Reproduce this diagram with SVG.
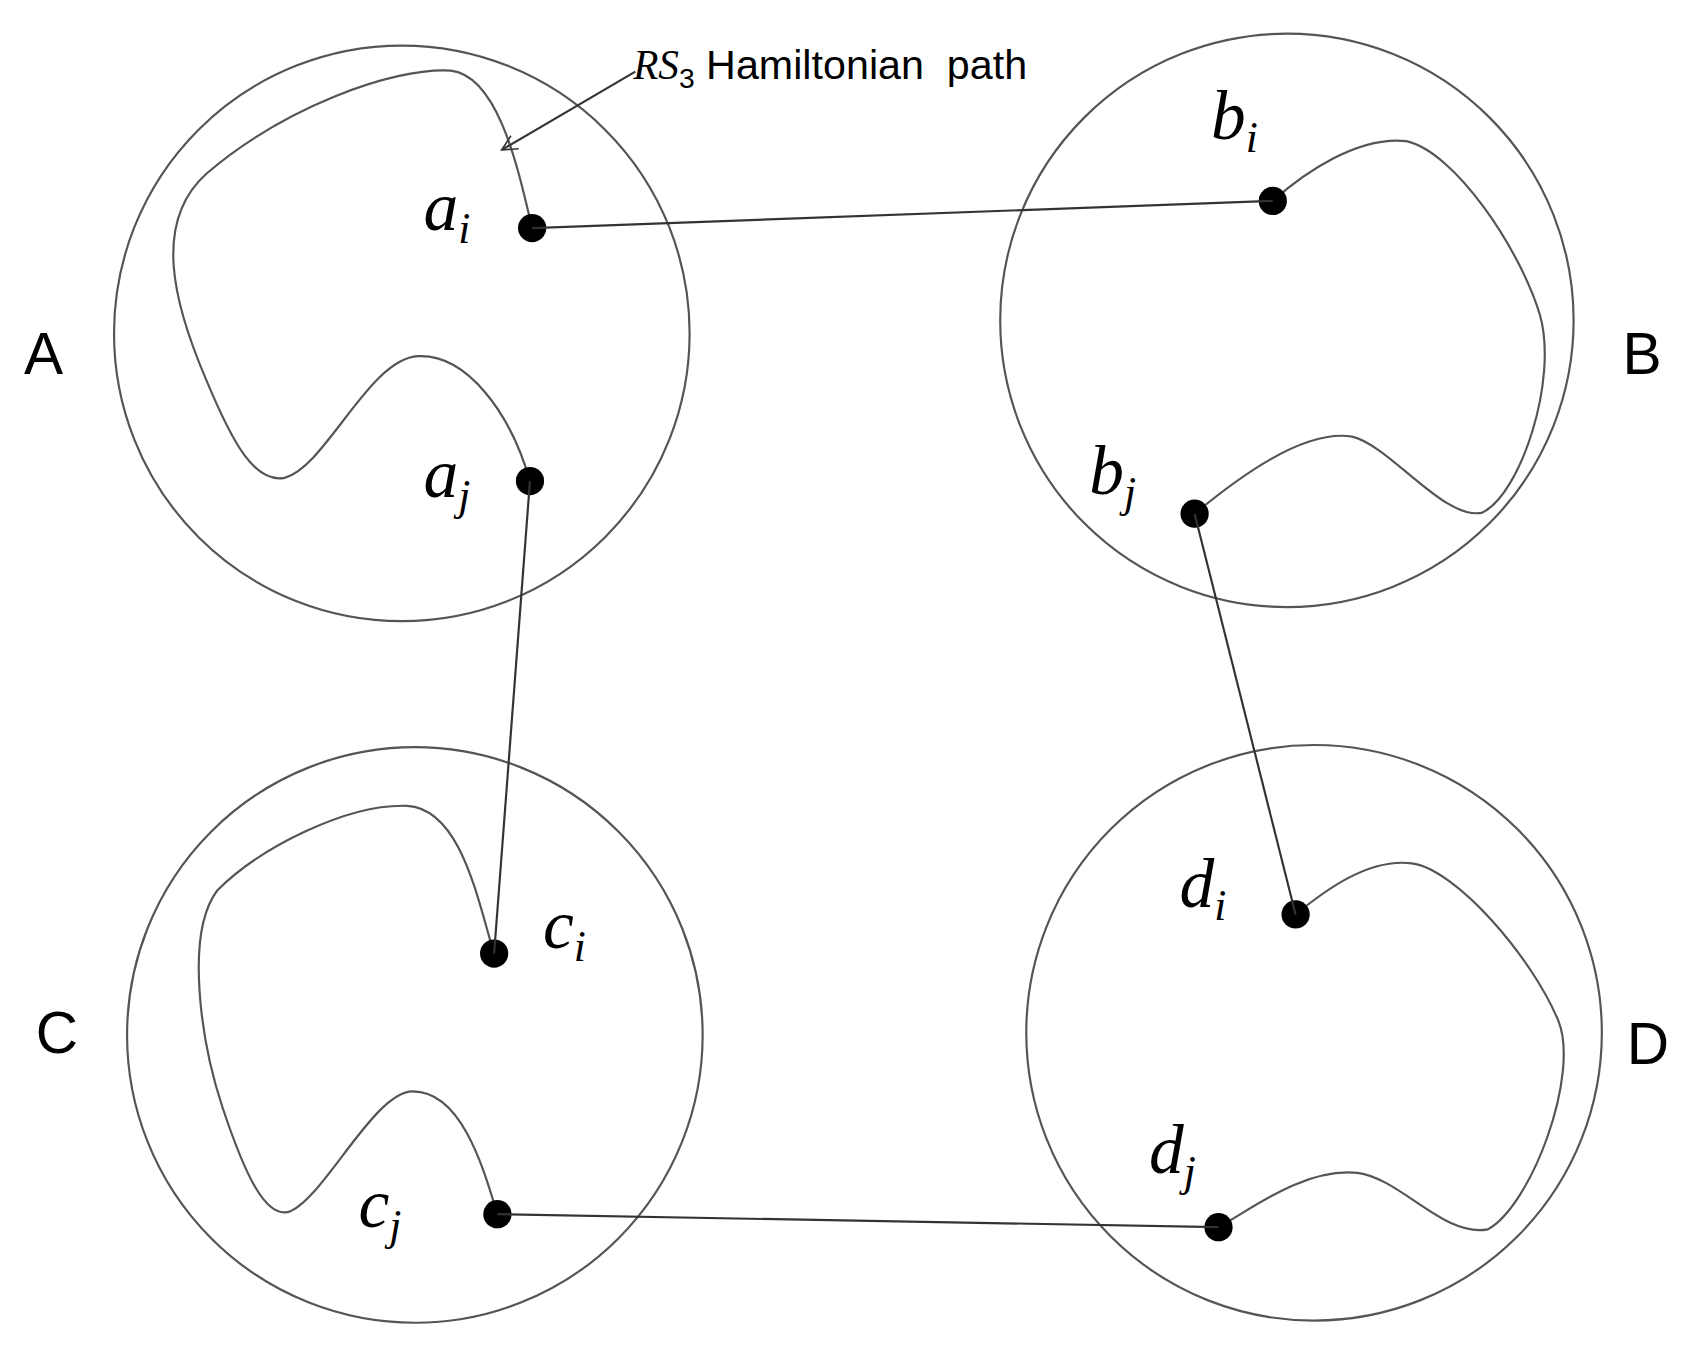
<svg xmlns="http://www.w3.org/2000/svg" width="1694" height="1345" viewBox="0 0 1694 1345">
<style>
.c{fill:none;stroke:#555;stroke-width:2}
.p{fill:none;stroke:#555;stroke-width:2}
.e{stroke:#333;stroke-width:2;fill:none}
.d{fill:#000}
.m{font-family:"Liberation Serif",serif;font-style:italic;font-size:64px;fill:#000}
.s{font-size:40px}
.L{font-family:"Liberation Sans",Arial,sans-serif;font-size:54px;fill:#000}
.h{font-family:"Liberation Sans",Arial,sans-serif;font-size:38px;fill:#000}
</style>
<defs><marker id="ar" markerWidth="16" markerHeight="16" refX="14" refY="8" orient="auto" markerUnits="userSpaceOnUse"><path d="M0,1 L14,8 L0,15" fill="none" stroke="#333" stroke-width="1.5"/></marker></defs>
<rect width="1694" height="1345" fill="#fff"/>
<g transform="scale(1.086)">
<g id="A"><circle class="c" cx="370" cy="307" r="265"/><path class="p" d="M490,210 C478,160 460,70 415,65 C360,62 260,100 190,160 C140,205 160,280 190,350 C215,410 235,445 262,440 C300,430 340,330 385,328 C430,326 470,380 488,443"/><text class="L" x="22" y="344">A</text><circle class="d" cx="490" cy="210" r="13"/><circle class="d" cx="488" cy="443" r="13"/><text class="m" x="390" y="212">a<tspan class="s" dy="12">i</tspan></text><text class="m" x="390" y="458">a<tspan class="s" dy="12">j</tspan></text></g>
<g id="B"><circle class="c" cx="1185" cy="295" r="264"/><path class="p" d="M1172,185 C1200,160 1250,125 1295,130 C1340,140 1400,230 1418,290 C1435,350 1400,455 1365,472 C1330,480 1280,410 1245,402 C1200,395 1140,440 1100,473"/><text class="L" x="1494" y="344">B</text><circle class="d" cx="1172" cy="185" r="13"/><circle class="d" cx="1100" cy="473" r="13"/><text class="m" x="1115" y="128">b<tspan class="s" dy="12">i</tspan></text><text class="m" x="1003" y="455">b<tspan class="s" dy="12">j</tspan></text></g>
<g id="C"><circle class="c" cx="382" cy="953" r="265"/><path class="p" d="M455,878 C440,830 425,745 375,742 C320,740 240,780 200,820 C170,860 185,960 205,1020 C225,1080 245,1125 268,1115 C300,1100 345,1005 380,1005 C425,1005 445,1075 458,1118"/><text class="L" x="33" y="970">C</text><circle class="d" cx="455" cy="878" r="13"/><circle class="d" cx="458" cy="1118" r="13"/><text class="m" x="500" y="873">c<tspan class="s" dy="12">i</tspan></text><text class="m" x="330" y="1130">c<tspan class="s" dy="12">j</tspan></text></g>
<g id="D"><circle class="c" cx="1210" cy="951" r="265"/><path class="p" d="M1193,842 C1220,820 1260,790 1300,795 C1340,800 1410,880 1435,940 C1455,990 1410,1110 1370,1132 C1330,1140 1290,1085 1250,1080 C1200,1075 1150,1115 1122,1130"/><text class="L" x="1498" y="980">D</text><circle class="d" cx="1193" cy="842" r="13"/><circle class="d" cx="1122" cy="1130" r="13"/><text class="m" x="1086" y="835">d<tspan class="s" dy="12">i</tspan></text><text class="m" x="1058" y="1080">d<tspan class="s" dy="12">j</tspan></text></g>
<g id="label"><text class="h" x="583" y="73"><tspan font-family="Liberation Serif" font-style="italic">RS</tspan><tspan font-size="26" dy="8">3</tspan><tspan dy="-8" xml:space="preserve"> Hamiltonian  path</tspan></text></g>
<g id="connectors">
<line class="e" x1="490" y1="210" x2="1172" y2="185"/>
<line class="e" x1="488" y1="443" x2="455" y2="878"/>
<line class="e" x1="1100" y1="473" x2="1193" y2="842"/>
<line class="e" x1="458" y1="1118" x2="1122" y2="1130"/>
<line class="e" x1="585" y1="66" x2="462" y2="138" marker-end="url(#ar)"/>
</g>
</g>
</svg>
